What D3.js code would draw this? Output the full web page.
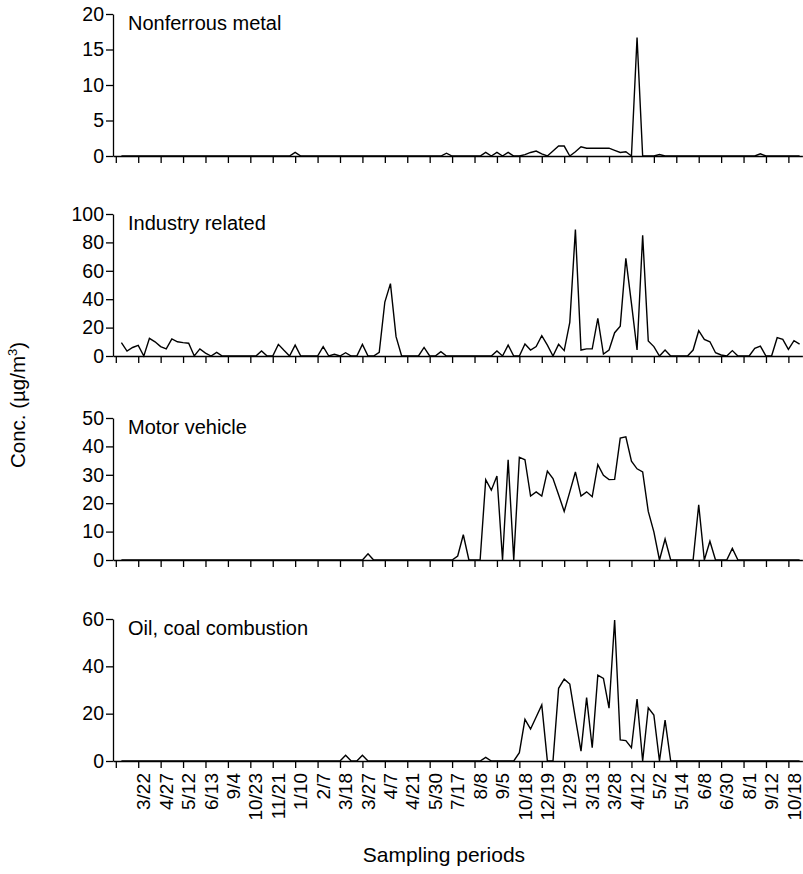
<!DOCTYPE html>
<html>
<head>
<meta charset="utf-8">
<script src="https://cdn.jsdelivr.net/npm/d3@7"></script>
<style>
body{margin:0;background:#fff;}
text{font-family:"Liberation Sans",Arial,sans-serif;fill:#000;}
</style>
</head>
<body>
<div id="chart"></div>
<script>
// labels under every 4th sampling period (first one at period 4)
var tickLabels = ["3/22","4/27","5/12","6/13","9/4","10/23","11/21","1/10","2/7","3/18",
  "3/27","4/7","4/21","5/30","7/17","8/8","9/5","10/18","12/19","1/29",
  "3/13","3/28","4/12","5/2","5/14","6/8","6/30","8/1","9/12","10/18"];

var panelTitles = ["Nonferrous metal","Industry related","Motor vehicle","Oil, coal combustion"];
var panelMax = [20,100,50,60];
var panelStep = [5,20,10,20];

// conc. per sampling period, 123 periods
var nonferrous = [null,0,0,0,0,0,0,0,0,0,
  0,0,0,0,0,0,0,0,0,0,
  0,0,0,0,0,0,0,0,0,0,
  0,0,0.5,0,0,0,0,0,0,0,
  0,0,0,0,0,0,0,0,0,0,
  0,0,0,0,0,0,0,0,0,0.4,
  0,0,0,0,0,0,0.5,0,0.5,0,
  0.5,0,0,0.2,0.5,0.7,0.3,0,0.7,1.4,
  1.4,0,0.6,1.3,1.1,1.1,1.1,1.1,1.1,0.8,
  0.5,0.6,0,16.7,0,0,0,0.2,0,0,
  0,0,0,0,0,0,0,0,0,0,
  0,0,0,0,0,0.3,0,0,0,0,
  0,0,0];

var industry = [null,9.4,3.5,6,7.5,0,12.4,10,6.6,5,
  12,10,9.4,9,0,5,2,0,2.6,0,
  0,0,0,0,0,0,3.5,0,0,8.2,
  4,0,7.7,0,0,0,0,6.6,0,1.2,
  0,2.3,0,0,8.2,0,0,2.6,38,51,
  13.6,0,0,0,0,6,0,0,3,0,
  0,0,0,0,0,0,0,0,3.5,0,
  7.7,0,0,8.4,4.2,6.6,14.3,7.7,0,8.2,
  3.8,23.7,89,4.2,5,5,26.5,1.4,4.2,16.4,
  21,68.8,37,4.2,85,10.6,6.6,0,4.2,0,
  0,0,0,4.2,17.8,11.7,10,2.3,0.7,0,
  3.8,0,0,0,5.4,7,0,0,12.9,11.7,
  4.7,10.8,8.4];

var motor = [null,0,0,0,0,0,0,0,0,0,
  0,0,0,0,0,0,0,0,0,0,
  0,0,0,0,0,0,0,0,0,0,
  0,0,0,0,0,0,0,0,0,0,
  0,0,0,0,0,2.2,0,0,0,0,
  0,0,0,0,0,0,0,0,0,0,
  0,1.4,8.9,0,0,0,28.3,24.6,29.6,0,
  35.3,0,36.2,35.3,22.5,24,22.5,31.3,28.7,23,
  17.1,24,31,22.5,24,22.3,33.6,29.8,28.3,28.4,
  42.9,43.4,34.8,32.1,31,17.1,9.9,0,7.4,0,
  0,0,0,0,19.4,0,6.6,0,0,0,
  4.1,0,0,0,0,0,0,0,0,0,
  0,0,0];

var oilCoal = [null,0,0,0,0,0,0,0,0,0,
  0,0,0,0,0,0,0,0,0,0,
  0,0,0,0,0,0,0,0,0,0,
  0,0,0,0,0,0,0,0,0,0,
  0,2.4,0,0,2.4,0,0,0,0,0,
  0,0,0,0,0,0,0,0,0,0,
  0,0,0,0,0,0,1.5,0,0,0,
  0,0,3.5,17.6,13.5,18.6,23.7,0,0,30.7,
  34.6,32.5,18,4.2,26.8,5.6,36.3,34.9,22.3,59.6,
  8.9,8.6,5.6,26.2,0,22.5,19.4,0,17.3,0,
  0,0,0,0,0,0,0,0,0,0,
  0,0,0,0,0,0,0,0,0,0,
  0,0,0];

var series = [nonferrous, industry, motor, oilCoal];

var width = 803, height = 874;
var left = 113, right = 802.4;
var panelTop = [14,214,418,619], panelH = 142;

var svg = d3.select("#chart").append("svg")
  .attr("width", width)
  .attr("height", height);

var x = d3.scaleLinear()
  .domain([-0.5, nonferrous.length - 0.5])
  .range([left, right]);

for (let p = 0; p < 4; p++) {
  var y = d3.scaleLinear()
    .domain([0, panelMax[p]])
    .range([panelTop[p] + panelH, panelTop[p]]);

  var g = svg.append("g");

  // x axis, ticks every 4 periods
  var xAxis = d3.axisBottom(x)
    .tickValues(d3.range(0, 121, 4))
    .tickSize(7)
    .tickSizeOuter(0)
    .tickFormat(function(d){ return (p == 3 && d > 0) ? tickLabels[d/4 - 1] : ""; });

  var xg = g.append("g")
    .attr("transform", "translate(0," + (panelTop[p] + panelH) + ")")
    .call(xAxis);
  xg.selectAll("text")
    .attr("transform", "rotate(-90)")
    .attr("text-anchor", "end")
    .attr("x", -12)
    .attr("y", 5)
    .attr("dy", "0.35em")
    .style("font-size", "19px");

  var yg = g.append("g")
    .attr("transform", "translate(" + left + ",0)")
    .call(d3.axisLeft(y).tickValues(d3.range(0, panelMax[p] + 1, panelStep[p])).tickSize(7).tickSizeOuter(0).tickPadding(2));
  yg.selectAll("text").style("font-size", "19.5px");

  g.selectAll(".domain, .tick line")
    .attr("stroke", "#000")
    .attr("stroke-width", 1.3);
  g.selectAll(".tick text").attr("fill", "#000").style("font-family", "'Liberation Sans',Arial,sans-serif");

  var line = d3.line()
    .defined(function(d){ return d != null; })
    .x(function(d, i){ return x(i); })
    .y(function(d){ return y(d); });

  g.append("path")
    .datum(series[p])
    .attr("d", line)
    .attr("fill", "none")
    .attr("stroke", "#000")
    .attr("stroke-width", 1.4)
    .attr("stroke-linejoin", "miter");

  g.append("text")
    .attr("x", 128)
    .attr("y", panelTop[p] + 16)
    .style("font-size", "20px")
    .text(panelTitles[p]);
}

// axis titles
svg.append("text")
  .attr("transform", "translate(25,405) rotate(-90)")
  .attr("text-anchor", "middle")
  .style("font-size", "20.5px")
  .html('Conc. (µg/m<tspan dy="-8" font-size="13px">3</tspan><tspan dy="8">)</tspan>');

svg.append("text")
  .attr("x", 444)
  .attr("y", 862)
  .attr("text-anchor", "middle")
  .style("font-size", "21px")
  .text("Sampling periods");
</script>
</body>
</html>
